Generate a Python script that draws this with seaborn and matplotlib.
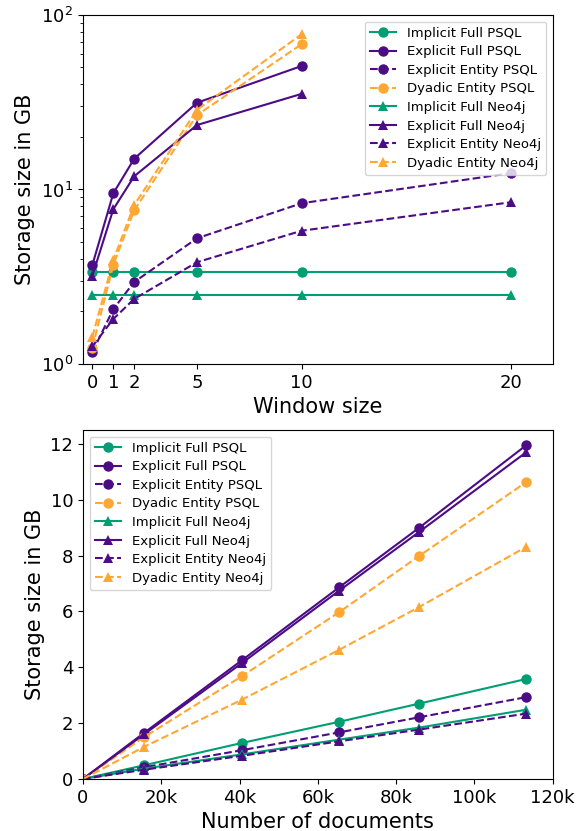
import numpy as np
import pandas as pd
import matplotlib
matplotlib.use("Agg")
import matplotlib.pyplot as plt
import seaborn as sns
from matplotlib.ticker import FuncFormatter

# ==============================
# DATA
# ==============================
labels = ["Implicit Full PSQL", "Explicit Full PSQL", "Explicit Entity PSQL", "Dyadic Entity PSQL",
          "Implicit Full Neo4j", "Explicit Full Neo4j", "Explicit Entity Neo4j", "Dyadic Entity Neo4j"]

window = [0, 1, 2, 5, 10, 20]
win_implicit_full_psql = [3.37, 3.37, 3.37, 3.37, 3.37, 3.37]
win_explicit_full_psql = [3.69, 9.5, 15.0, 31.4, 51.0]
win_explicit_entity_psql = [1.17, 2.06, 2.95, 5.25, 8.34, 12.4]
win_dyadic_entity_psql = [1.24, 3.7, 7.6, 26.7, 68.0]
win_implicit_full_neo4j = [2.49, 2.49, 2.49, 2.49, 2.49, 2.49]
win_explicit_full_neo4j = [3.2, 7.7, 11.9, 23.4, 35.3]
win_explicit_entity_neo4j = [1.26, 1.81, 2.36, 3.83, 5.8, 8.45]
win_dyadic_entity_neo4j = [1.43, 3.94, 8.15, 28.6, 77.5]

docs = [0, 15600, 40600, 65500, 85900, 113200]
doc_implicit_full_psql = [0, 0.49, 1.29, 2.05, 2.70, 3.58]
doc_explicit_full_psql = [0, 1.65, 4.25, 6.87, 9.00, 11.95]
doc_explicit_entity_psql = [0, 0.42, 1.03, 1.67, 2.21, 2.93]
doc_dyadic_entity_psql = [0, 1.50, 3.68, 5.98, 7.99, 10.63]
doc_implicit_full_neo4j = [0, 0.37, 0.88, 1.41, 1.84, 2.48]
doc_explicit_full_neo4j = [0, 1.60, 4.15, 6.75, 8.85, 11.70]
doc_explicit_entity_neo4j = [0, 0.33, 0.83, 1.35, 1.77, 2.34]
doc_dyadic_entity_neo4j = [0, 1.15, 2.84, 4.63, 6.16, 8.31]

win_series = [win_implicit_full_psql, win_explicit_full_psql, win_explicit_entity_psql, win_dyadic_entity_psql,
              win_implicit_full_neo4j, win_explicit_full_neo4j, win_explicit_entity_neo4j, win_dyadic_entity_neo4j]
doc_series = [doc_implicit_full_psql, doc_explicit_full_psql, doc_explicit_entity_psql, doc_dyadic_entity_psql,
              doc_implicit_full_neo4j, doc_explicit_full_neo4j, doc_explicit_entity_neo4j, doc_dyadic_entity_neo4j]

# ==============================
# STYLE
# ==============================
green = "#009E73"
purple = "#4B0C86"
orange = "#FFA733"
colors = [green, purple, purple, orange] * 2
styles = ["-", "-", "--", "--"] * 2
markers = ["o"] * 4 + ["^"] * 4

fig = plt.figure(figsize=(5.8, 8.31), dpi=100)
ax1 = fig.add_axes([0.143, 0.562, 0.81, 0.420])
ax2 = fig.add_axes([0.143, 0.0626, 0.81, 0.420])

# ==============================
# TOP: WINDOW SIZE
# ==============================
for lab, vals, c, ls, m in zip(labels, win_series, colors, styles, markers):
    sns.lineplot(x=window[:len(vals)], y=vals, ax=ax1, color=c, linestyle=ls, marker=m,
                 markersize=7.5, markeredgewidth=0, linewidth=1.5, label=lab)

ax1.set_yscale("log")
ax1.set_ylim(1, 100)
ax1.set_xlim(-0.45, 22)
ax1.set_xticks(window)
ax1.set_xlabel("Window size", fontsize=15)
ax1.set_ylabel("Storage size in GB", fontsize=15)
ax1.tick_params(labelsize=13)
ax1.legend(loc="upper right", fontsize=9.5, labelspacing=0.42)

# ==============================
# BOTTOM: NUMBER OF DOCUMENTS
# ==============================
for lab, vals, c, ls, m in zip(labels, doc_series, colors, styles, markers):
    sns.lineplot(x=docs, y=vals, ax=ax2, color=c, linestyle=ls, marker=m,
                 markersize=7.5, markeredgewidth=0, linewidth=1.5, label=lab)

ax2.set_xlim(0, 120000)
ax2.set_ylim(0, 12.5)
ax2.set_xticks([0, 20000, 40000, 60000, 80000, 100000, 120000])
ax2.xaxis.set_major_formatter(FuncFormatter(lambda v, p: "0" if v == 0 else f"{int(v/1000)}k"))
ax2.set_xlabel("Number of documents", fontsize=15)
ax2.set_ylabel("Storage size in GB", fontsize=15)
ax2.tick_params(labelsize=13)
ax2.legend(loc="upper left", fontsize=9.5, labelspacing=0.42)

plt.savefig("out.png", dpi=100)
